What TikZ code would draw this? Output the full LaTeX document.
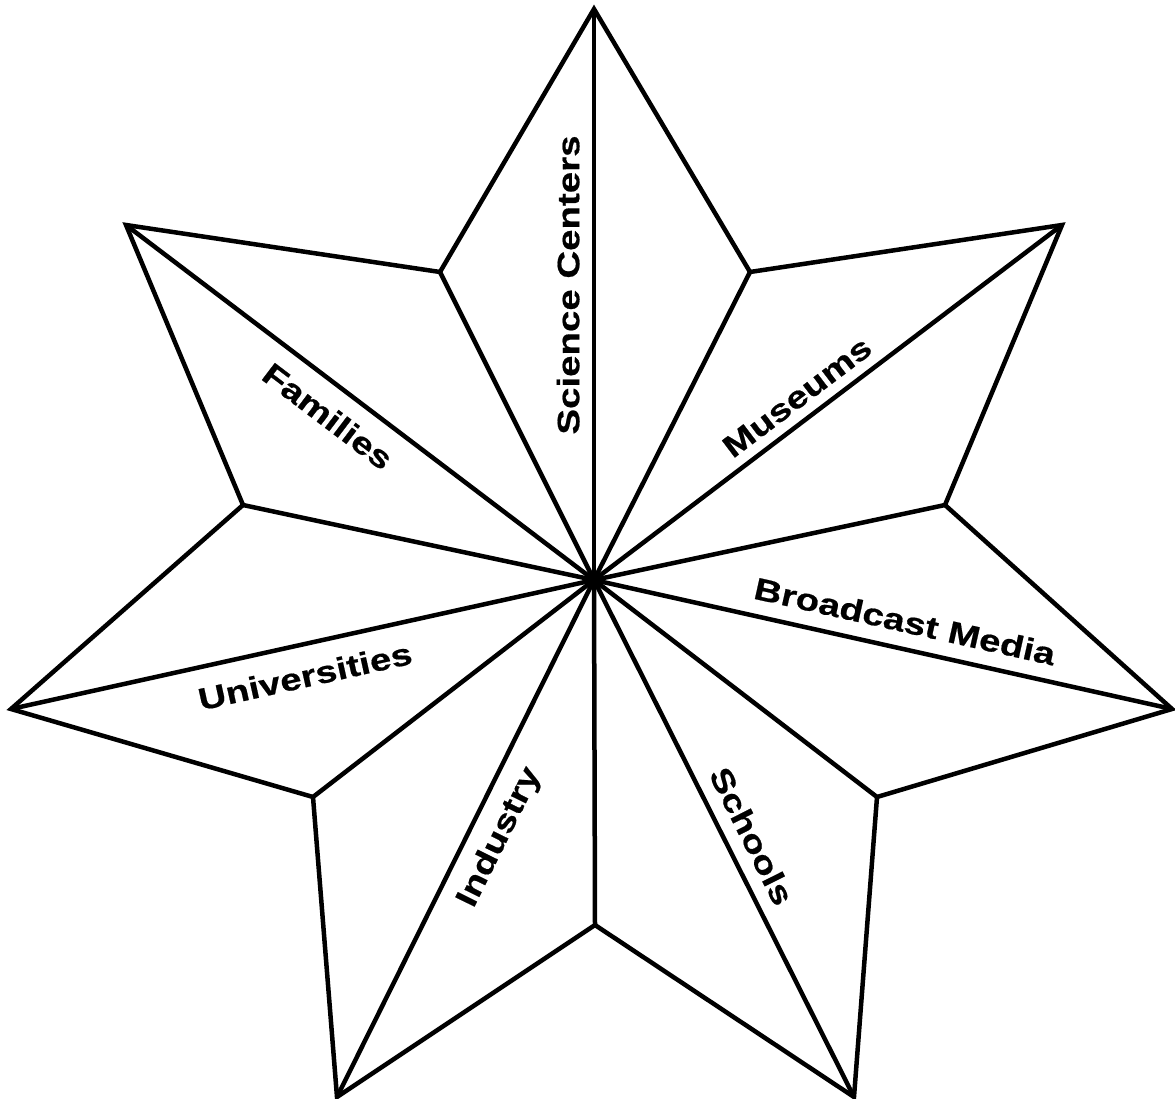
\documentclass[tikz,border=0pt]{standalone}
\usepackage{fontspec}
\newfontfamily\labfont{Liberation Sans}[FakeStretch=1.24,FakeBold=0.6]
\begin{document}
\begin{tikzpicture}[x=1pt,y=-1pt,line width=4.5pt,line join=miter,
  lab/.style={font=\labfont\bfseries\fontsize{31}{36}\selectfont,inner sep=0pt,text depth=0pt}]
\useasboundingbox (0,0) rectangle (1175,1099);
\coordinate (C) at (594,580);
\coordinate (o1) at (594,9);
\coordinate (i1) at (750,272);
\coordinate (o2) at (1062,225);
\coordinate (i2) at (945,505);
\coordinate (o3) at (1172,709);
\coordinate (i3) at (877,797);
\coordinate (o4) at (854,1097);
\coordinate (i4) at (595,925);
\coordinate (o5) at (337,1097);
\coordinate (i5) at (313,797);
\coordinate (o6) at (11,709);
\coordinate (i6) at (243,505);
\coordinate (o7) at (126,225);
\coordinate (i7) at (440,272);
\draw (o1)--(i1)--(o2)--(i2)--(o3)--(i3)--(o4)--(i4)--(o5)--(i5)--(o6)--(i6)--(o7)--(i7)--cycle;
\foreach \p in {o1,i1,o2,i2,o3,i3,o4,i4,o5,i5,o6,i6,o7,i7}
  \draw (C)--(\p);
\node[lab,rotate=90] (sc) at (568,285) {Science Centers};
\node[lab,rotate=37.2] (mu) at (797,397) {Museums};
\node[lab,rotate=-12.6] (bm) at (905,621) {Broadcast Media};
\node[lab,rotate=-63.3] (scl) at (752,836) {Schools};
\node[lab,rotate=63.6] (ind) at (497,836) {Industry};
\node[lab,rotate=12.5] (uni) at (305,676) {Universities};
\node[lab,rotate=-37.2] (fam) at (328,416) {Families};
\end{tikzpicture}
\end{document}
